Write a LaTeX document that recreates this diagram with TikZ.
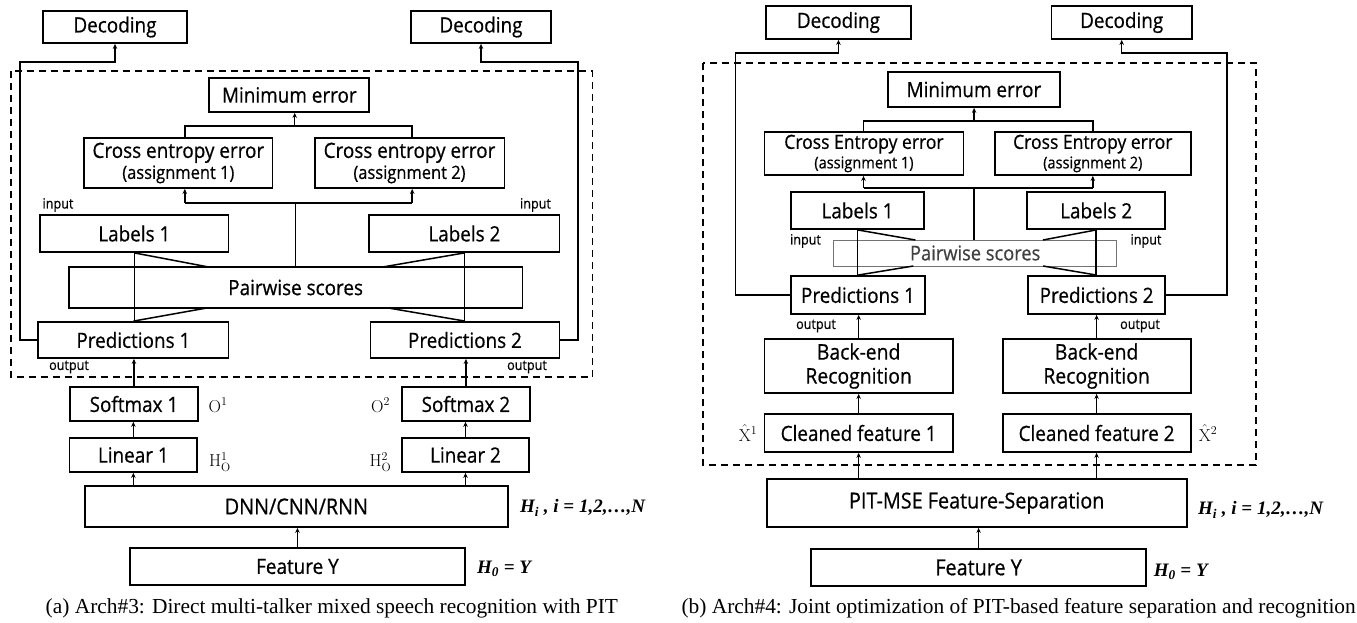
\documentclass[tikz,border=0pt]{standalone}
\usepackage[no-math]{fontspec}
\setmainfont{Open Sans}[FakeStretch=0.9,FakeBold=0.6]
\newfontfamily\serf{Liberation Serif}
\usetikzlibrary{arrows.meta,calc}
\newcommand\fs[1]{\fontsize{#1}{#1}\selectfont}
\newcommand\mkbox[7][]{\node[box,#1,minimum width={(#5-#3)*1pt},minimum height={(#6-#4)*1pt}] (#2) at ({(#3+#5)/2},{(#4+#6)/2}) {#7};}
\tikzset{
  box/.style={draw, line width=1.8pt, inner sep=0pt, align=center, font=\fs{21}},
  ln/.style={line width=1.5pt},
  arr/.style={line width=1.5pt, -{Stealth[length=5pt,width=4.5pt]}},
  dbox/.style={draw, line width=1.8pt, dash pattern=on 7pt off 5pt},
  lab/.style={inner sep=0pt, font=\fs{14}},
  mlab/.style={inner sep=0pt, font=\fs{17}},
  hlab/.style={inner sep=0pt, anchor=west, font=\serf\bfseries\itshape\fs{19}},
  captext/.style={inner sep=0pt, font=\serf\fs{21.4}},
}
\begin{document}
\begin{tikzpicture}[x=1pt,y=-1pt]
\useasboundingbox (0,0) rectangle (1357,622);
% ---------------- left panel ----------------
\draw[dbox] (10.7,71) rectangle (592.4,377);
\mkbox{D1}{43}{11}{187}{43}{Decoding}
\mkbox{D2}{411}{11}{551}{43}{Decoding}
\mkbox{ME}{209.3}{78}{369.3}{112}{Minimum error}
\mkbox[font=\fontsize{21}{21}\selectfont]{CE1}{84.2}{138}{272.5}{188}{Cross entropy error\\{\fs{18.3}(assignment 1)}}
\mkbox[font=\fontsize{21}{21}\selectfont]{CE2}{314.6}{138}{504.4}{188}{Cross entropy error\\{\fs{18.3}(assignment 2)}}
\mkbox{L1}{40.2}{215}{228.5}{252}{Labels 1}
\mkbox{L2}{369.3}{215}{559.5}{252}{Labels 2}
\mkbox{PW}{68.9}{267}{522.4}{308}{Pairwise scores}
\mkbox{P1}{38.3}{322}{228.5}{358}{Predictions 1}
\mkbox{P2}{370.5}{322}{559.5}{358}{Predictions 2}
\mkbox{S1}{70}{387}{197.9}{421}{Softmax 1}
\mkbox{S2}{401.8}{387}{530}{421}{Softmax 2}
\mkbox{Li1}{69.4}{438}{197.3}{472}{Linear 1}
\mkbox{Li2}{402}{438}{529}{472}{Linear 2}
\mkbox[font=\fs{22}]{DN}{84.6}{486}{508.2}{527}{DNN/CNN/RNN}
\mkbox{FY}{130}{548}{464.9}{585}{Feature Y}
\coordinate (fbL) at (19.9,62);
\coordinate (fbR) at (578,62);
\coordinate (tL) at (184.8,126);
\coordinate (tR) at (412.2,126);
\coordinate (tM) at (294.7,126);
\coordinate (bL) at (184.8,203);
\coordinate (bR) at (412.2,203);
\coordinate (bM) at (295.4,203);
\coordinate (dA) at (208.6,267);
\coordinate (dB) at (382.7,267);
\coordinate (dC) at (206.7,308);
\coordinate (dD) at (388.4,308);
\draw[arr] (P1.west) -| (fbL) -| (D1.south);
\draw[arr] (P2.east) -| (fbR) -| (D2.south);
\draw[ln] (CE1.north -| tL) -- (tL) -- (tR) -- (CE2.north -| tR);
\draw[arr] (tM) -- (tM |- ME.south);
\draw[ln] (bL) -- (bR);
\draw[arr] (bL) -- (bL |- CE1.south);
\draw[arr] (bR) -- (bR |- CE2.south);
\draw[ln] (bM) -- (bM |- PW.north);
\draw[ln] (L1.south) -- (L1.south |- P1.north);
\draw[ln] (L2.south) -- (L2.south |- P2.north);
\draw[ln] (L1.south) -- (dA);
\draw[ln] (L2.south) -- (dB);
\draw[ln] (P1.north) -- (dC);
\draw[ln] (P2.north) -- (dD);
\draw[arr] (S1.north) -- (S1.north |- P1.south);
\draw[arr] (S2.north) -- (S2.north |- P2.south);
\draw[arr] (Li1.north) -- (Li1.north |- S1.south);
\draw[arr] (Li2.north) -- (Li2.north |- S2.south);
\draw[arr] (DN.north -| Li1.south) -- (Li1.south);
\draw[arr] (DN.north -| Li2.south) -- (Li2.south);
\draw[arr] (FY.north) -- (FY.north |- DN.south);
\node[lab] (inL) at (58,205) {input};
\node[lab] (inR) at (535.5,205) {input};
\node[lab] (outL) at (69,367) {output};
\node[lab] (outR) at (527,367) {output};
\node[mlab] (o1) at (218,405) {$\mathrm{O}^{1}$};
\node[mlab] (o2) at (380.5,405) {$\mathrm{O}^{2}$};
\node[mlab] (h1) at (220,462) {$\mathrm{H}^{1}_{\mathrm{O}}$};
\node[mlab] (h2) at (380.5,462) {$\mathrm{H}^{2}_{\mathrm{O}}$};
\node[hlab] (hi) at (520,508) {H\textsubscript{i} , i = 1,2,…,N};
\node[hlab] (h0) at (477,569) {H\textsubscript{0} = Y};
\node[captext,anchor=west] (capa) at (45.5,608) {(a) Arch\#3: Direct multi-talker mixed speech recognition with PIT};
% ---------------- right panel ----------------
\draw[dbox] (702.8,63) rectangle (1255.7,465);
\mkbox{RD1}{765.7}{6}{911.2}{39}{Decoding}
\mkbox{RD2}{1051.5}{6}{1191.9}{39}{Decoding}
\mkbox{RME}{887.8}{72}{1060}{107}{Minimum error}
\mkbox[font=\fontsize{19.5}{19.5}\selectfont]{RCE1}{764.4}{132}{963.5}{175}{Cross Entropy error\\{\fs{16.2}(assignment 1)}}
\mkbox[font=\fontsize{19.5}{19.5}\selectfont]{RCE2}{995}{132}{1190.6}{175}{Cross Entropy error\\{\fs{16.2}(assignment 2)}}
\mkbox{RL1}{791.2}{192}{923.9}{229}{Labels 1}
\mkbox{RL2}{1027.3}{192}{1165.1}{229}{Labels 2}
\mkbox[line width=0.8pt,draw=black!55,text=black!75,font=\fs{20.3}]{RPW}{833.8}{240}{1116.6}{266}{Pairwise scores}
\mkbox{RP1}{790.8}{276}{925.2}{314}{Predictions 1}
\mkbox{RP2}{1028.2}{276}{1165.1}{314}{Predictions 2}
\mkbox[font=\fontsize{21.5}{24}\selectfont]{RB1}{764.4}{339}{952.9}{393}{Back-end\\Recognition}
\mkbox[font=\fontsize{21.5}{24}\selectfont]{RB2}{1002.6}{339}{1190.6}{393}{Back-end\\Recognition}
\mkbox{RC1}{764.4}{414}{952.9}{452}{Cleaned feature 1}
\mkbox{RC2}{1002.6}{414}{1190.6}{452}{Cleaned feature 2}
\mkbox[font=\fs{22}]{RPIT}{766.6}{479}{1186.8}{527}{PIT-MSE Feature-Separation}
\mkbox[font=\fs{22}]{RFY}{811.2}{549}{1146}{586}{Feature Y}
\coordinate (rfbL) at (735.5,53);
\coordinate (rfbR) at (1226.8,53);
\coordinate (rtL) at (863.5,121);
\coordinate (rtR) at (1092.8,121);
\coordinate (rtM) at (974.1,121);
\coordinate (rbL) at (863.5,188);
\coordinate (rbR) at (1092.8,188);
\coordinate (rbM) at (974,188);
\coordinate (rdA) at (915.4,240);
\coordinate (rdB) at (1043,240);
\coordinate (rdC) at (913.3,266);
\coordinate (rdD) at (1043,266);
\draw[arr] (RP1.west) -| (rfbL) -| (RD1.south);
\draw[arr] (RP2.east) -| (rfbR) -| (RD2.south);
\draw[ln] (RCE1.north -| rtL) -- (rtL) -- (rtR) -- (RCE2.north -| rtR);
\draw[arr] (rtM) -- (rtM |- RME.south);
\draw[ln] (rbL) -- (rbR);
\draw[arr] (rbL) -- (rbL |- RCE1.south);
\draw[arr] (rbR) -- (rbR |- RCE2.south);
\draw[ln] (rbM) -- (rbM |- RPW.north);
\draw[ln] (RL1.south) -- (RL1.south |- RP1.north);
\draw[ln] (RL2.south) -- (RL2.south |- RP2.north);
\draw[ln] (RL1.south) -- (rdA);
\draw[ln] (RL2.south) -- (rdB);
\draw[ln] (RP1.north) -- (rdC);
\draw[ln] (RP2.north) -- (rdD);
\draw[arr] (RB1.north) -- (RB1.north |- RP1.south);
\draw[arr] (RB2.north) -- (RB2.north |- RP2.south);
\draw[arr] (RC1.north) -- (RB1.south);
\draw[arr] (RC2.north) -- (RB2.south);
\draw[arr] (RPIT.north -| RC1.south) -- (RC1.south);
\draw[arr] (RPIT.north -| RC2.south) -- (RC2.south);
\draw[arr] (RFY.north) -- (RFY.north |- RPIT.south);
\node[lab] (rinL) at (805.5,241) {input};
\node[lab] (rinR) at (1146,241) {input};
\node[lab] (routL) at (816,326) {output};
\node[lab] (routR) at (1140,326) {output};
\node[mlab] (x1) at (748,433) {$\hat{\mathrm{X}}^{1}$};
\node[mlab] (x2) at (1208,433) {$\hat{\mathrm{X}}^{2}$};
\node[hlab] (rhi) at (1198,510) {H\textsubscript{i} , i = 1,2,…,N};
\node[hlab] (rh0) at (1153.6,572) {H\textsubscript{0} = Y};
\node[captext,anchor=east] (capb) at (1356,608) {(b) Arch\#4: Joint optimization of PIT-based feature separation and recognition};
\end{tikzpicture}
\end{document}
